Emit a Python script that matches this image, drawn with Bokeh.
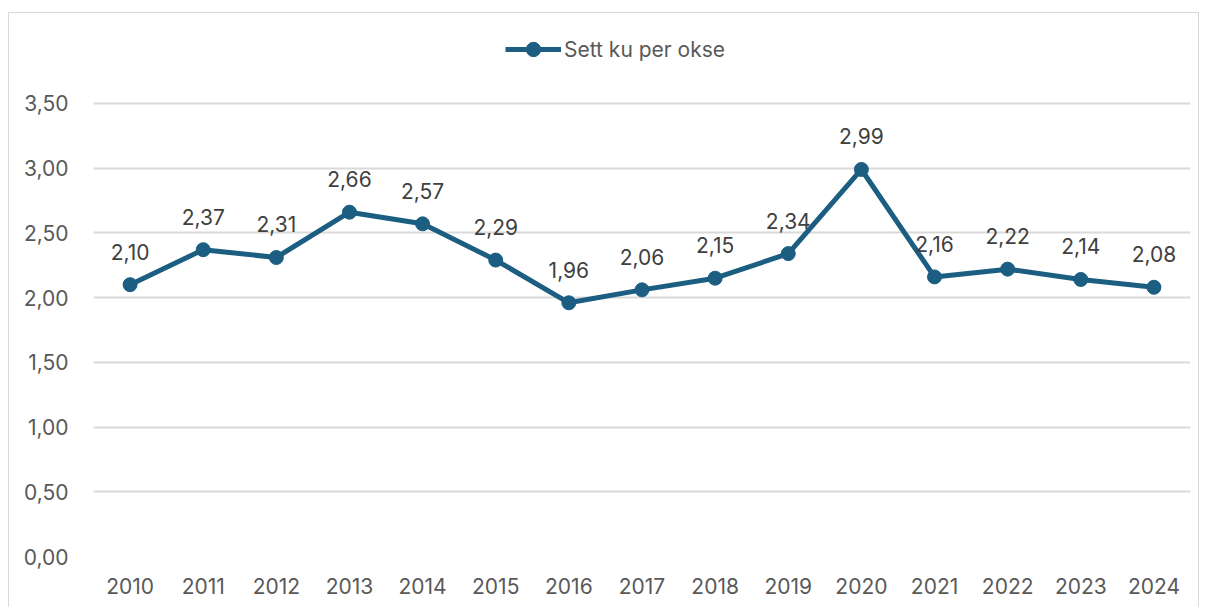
from bokeh.plotting import figure
from bokeh.models import (ColumnDataSource, Range1d, FixedTicker, Legend, LegendItem, LabelSet)
from bokeh.core.properties import value
from bokeh.embed import file_html
from bokeh.resources import INLINE

# Data
years = [str(y) for y in range(2010, 2025)]
cows_per_bull = [2.10, 2.37, 2.31, 2.66, 2.57, 2.29, 1.96, 2.06, 2.15, 2.34, 2.99, 2.16, 2.22, 2.14, 2.08]
series_name = "Sett ku per okse"
y_ticks = [0.0, 0.5, 1.0, 1.5, 2.0, 2.5, 3.0, 3.5]

def fmt(v):
    return f"{v:.2f}".replace(".", ",")

source = ColumnDataSource(dict(
    year=years,
    value=cows_per_bull,
    label=[fmt(v) for v in cows_per_bull],
))

LINE = "#1B5E82"
TEXT = "#595959"
FONT = "Inter"
FS = "21px"

# Frame runs up to the chart's top edge; the value axis stops at 3,50 and the
# space above holds the legend.
p = figure(
    x_range=years, y_range=Range1d(0, 4.195),
    width=1191, height=595,
    output_backend="svg", toolbar_location=None,
    min_border_left=84, min_border_right=10,
    min_border_top=0, min_border_bottom=52,
)
p.outline_line_color = None
p.background_fill_color = "white"
p.border_fill_color = "white"
p.styles = {
    "margin-left": "8px", "margin-top": "12px",
    "border-left": "1px solid #d9d9d9",
    "border-top": "1px solid #d9d9d9",
    "border-right": "1px solid #d9d9d9",
}

# Axes
p.yaxis.ticker = FixedTicker(ticks=y_ticks)
p.yaxis.major_label_overrides = {t: fmt(t) for t in y_ticks}
for ax in (p.xaxis[0], p.yaxis[0]):
    ax.axis_line_color = None
    ax.major_tick_line_color = None
    ax.minor_tick_line_color = None
    ax.major_label_text_color = TEXT
    ax.major_label_text_font = FONT
    ax.major_label_text_font_size = FS
p.yaxis.major_label_standoff = 19
p.xaxis.major_label_standoff = 15

p.xgrid.grid_line_color = None
p.ygrid.grid_line_color = "#d9d9d9"
p.ygrid.grid_line_width = 2

# Series
ln = p.line("year", "value", source=source, line_color=LINE, line_width=5)
sc = p.scatter("year", "value", source=source, size=14, fill_color=LINE, line_color=LINE)

labels = LabelSet(x="year", y="value", text="label", source=source,
                  y_offset=25, text_align="center", text_baseline="bottom",
                  text_color="#404040", text_font=value(FONT), text_font_size=FS)
p.add_layout(labels)

legend = Legend(items=[LegendItem(label=series_name, renderers=[ln, sc])],
                location=(412, 489), orientation="horizontal",
                glyph_width=56, glyph_height=36, label_standoff=3,
                label_text_color=TEXT, label_text_font=FONT, label_text_font_size=FS,
                border_line_color=None, background_fill_alpha=0, padding=0, margin=0)
p.add_layout(legend, "center")

open("out.html", "w").write(file_html(p, INLINE))
